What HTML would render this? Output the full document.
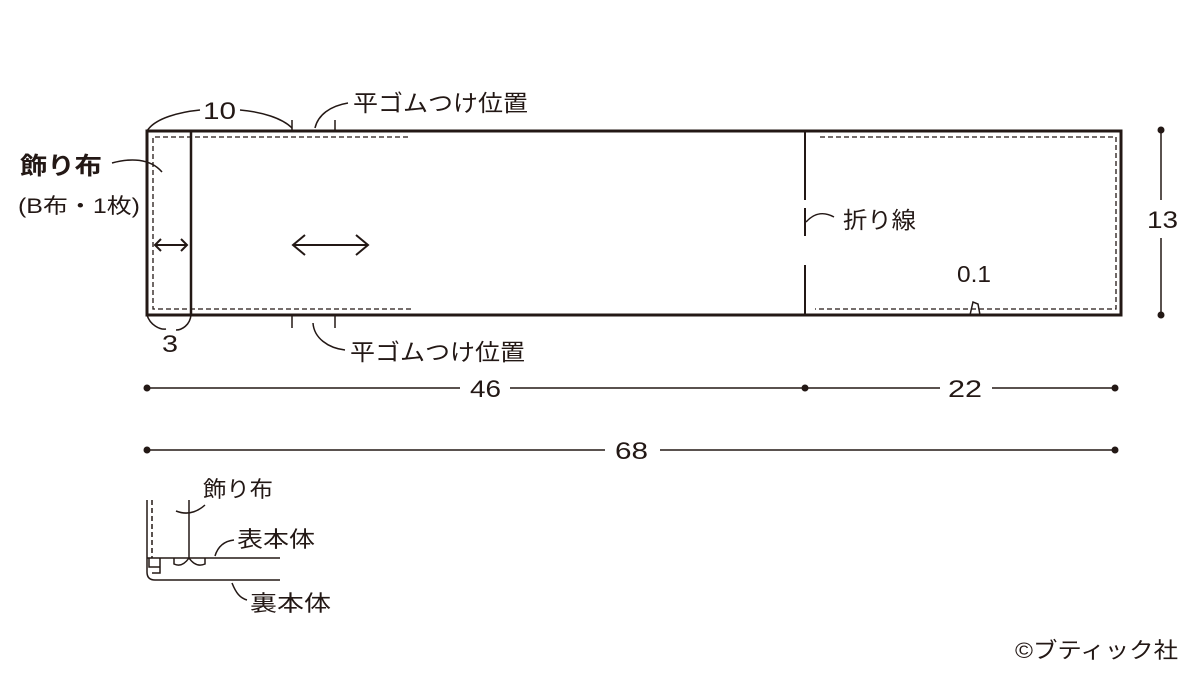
<!DOCTYPE html>
<html><head><meta charset="utf-8"><style>
html,body{margin:0;padding:0;background:#fff;width:1200px;height:675px;overflow:hidden}
text{font-family:"Liberation Sans","Noto Sans CJK JP",sans-serif;fill:#231815}
</style></head><body>
<svg width="1200" height="675" viewBox="0 0 1200 675" xmlns="http://www.w3.org/2000/svg">
<g stroke="#231815" fill="none">
<rect x="147" y="131" width="974" height="184" stroke-width="3"/>
<line x1="191" y1="131" x2="191" y2="315" stroke-width="2.5"/>
<path d="M805 131V200M805 208V236M805 265V315" stroke-width="2"/>
<g stroke-width="1.3" stroke-dasharray="5,3">
<path d="M408 137H153V309H413"/>
<path d="M820 137H1116V309H815"/>
</g>
<g stroke-width="1.5">
<path d="M292 120V131M335 120V131M292 315V328M335 315V328"/>
<path d="M147 131C155 118 180 112 200 110M240 110C262 112 282 118 292 128"/>
<path d="M147 315C150 325 160 330 166 329M191 315C190 325 182 330 176 330"/>
<path d="M315 128C318 115 330 106 348 103"/>
<path d="M313 323C314 338 328 348 345 350"/>
<path d="M112 163C130 158 150 158 162 172"/>
<path d="M806 222C815 212 825 212 834 217"/>
<path d="M970 315L973 302L978 304L980 315"/>
</g>
<g stroke-width="2">
<path d="M155 245H187M161 239L155 245L161 251M181 239L187 245L181 251"/>
<path d="M293 245H368M305 235L293 245L305 255M356 235L368 245L356 255"/>
</g>
<g stroke-width="1.5">
<path d="M147 388H460M510 388H805M805 388H940M992 388H1115"/>
<path d="M147 450H605M660 450H1115"/>
<path d="M1161 130V200M1161 238V315"/>
</g>
<g stroke-width="1.5">
<path d="M147 500V572Q147 580 155 580H280"/>
<path d="M152 500V558" stroke-dasharray="5,3"/>
<path d="M147 558H280"/>
<path d="M189 500V558"/>
<path d="M176 511C186 515 196 513 205 505"/>
<path d="M149 558V567H160M160 558V573H152"/>
<path d="M174 558V564Q182 568 189 558Q196 568 205 564V558"/>
<path d="M215 556C218 546 225 541 234 540"/>
<path d="M232 583C236 593 240 598 247 600"/>
</g>
</g>
<g fill="#231815">
<circle cx="147" cy="388" r="3.5"/><circle cx="805" cy="388" r="3.5"/><circle cx="1115" cy="388" r="3.5"/>
<circle cx="147" cy="450" r="3.5"/><circle cx="1115" cy="450" r="3.5"/>
<circle cx="1161" cy="130" r="3.5"/><circle cx="1161" cy="315" r="3.5"/>
</g>
<text x="20" y="174" font-size="24" font-weight="bold" textLength="82" lengthAdjust="spacingAndGlyphs">飾り布</text>
<text x="18" y="213" font-size="21" textLength="122" lengthAdjust="spacingAndGlyphs">(B布・1枚)</text>
<text x="203" y="119" font-size="24" textLength="33" lengthAdjust="spacingAndGlyphs">10</text>
<text x="162" y="352" font-size="24" textLength="16" lengthAdjust="spacingAndGlyphs">3</text>
<text x="353" y="111" font-size="23" textLength="175" lengthAdjust="spacingAndGlyphs">平ゴムつけ位置</text>
<text x="350" y="360" font-size="23" textLength="175" lengthAdjust="spacingAndGlyphs">平ゴムつけ位置</text>
<text x="843" y="228" font-size="23" textLength="73" lengthAdjust="spacingAndGlyphs">折り線</text>
<text x="957" y="282" font-size="23" textLength="34" lengthAdjust="spacingAndGlyphs">0.1</text>
<text x="1147" y="228" font-size="24" textLength="31" lengthAdjust="spacingAndGlyphs">13</text>
<text x="470" y="397" font-size="24" textLength="31" lengthAdjust="spacingAndGlyphs">46</text>
<text x="948" y="397" font-size="24" textLength="34" lengthAdjust="spacingAndGlyphs">22</text>
<text x="615" y="459" font-size="24" textLength="33" lengthAdjust="spacingAndGlyphs">68</text>
<text x="203" y="497" font-size="22" textLength="70" lengthAdjust="spacingAndGlyphs">飾り布</text>
<text x="237" y="547" font-size="22" textLength="78" lengthAdjust="spacingAndGlyphs">表本体</text>
<text x="250" y="611" font-size="22" textLength="81" lengthAdjust="spacingAndGlyphs">裏本体</text>
<text x="1015" y="658" font-size="22" textLength="163" lengthAdjust="spacingAndGlyphs">©ブティック社</text>
</svg>
</body></html>
